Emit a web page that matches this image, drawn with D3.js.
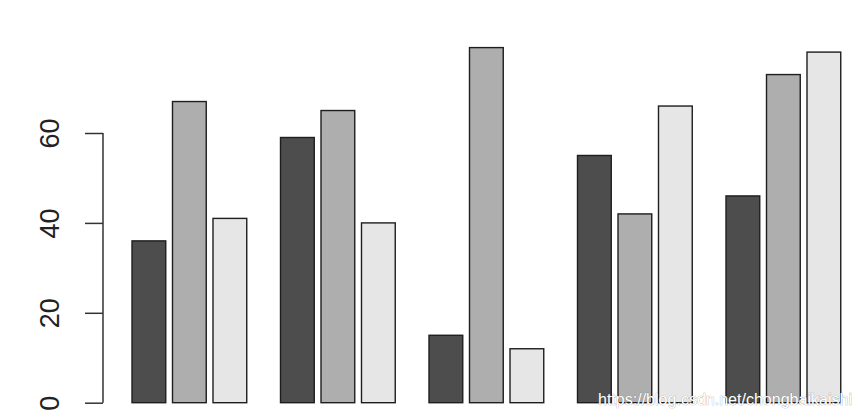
<!DOCTYPE html>
<html>
<head>
<meta charset="utf-8">
<script src="https://cdn.jsdelivr.net/npm/d3@7"></script>
<style>
  html, body { margin: 0; padding: 0; background: #fff; }
  svg { display: block; }
</style>
</head>
<body>
<div id="chart"></div>
<script>
// data
const groups = ["G1", "G2", "G3", "G4", "G5"];
const series = ["S1", "S2", "S3"];
const s1Values = [36, 59, 15, 55, 46];
const s2Values = [67, 65, 79, 42, 73];
const s3Values = [41, 40, 12, 66, 78];
const yTicks = [0, 20, 40, 60];
const seriesColours = ["#4d4d4d", "#aeaeae", "#e6e6e6"];
const watermark = "https://blog.csdn.net/chongbaikaishi";

const width = 861;
const height = 418;

const rows = groups.map((g, i) => ({
    group: g,
    values: [s1Values[i], s2Values[i], s3Values[i]]
}));

const svg = d3.select('#chart')
    .append('svg')
    .attr('width', width)
    .attr('height', height);

// y scale: zero sits at the bottom edge of the bars
const y = d3.scaleLinear()
    .domain([0, 80])
    .range([402.7, 402.7 - 80 * 4.495]);

// groups like barplot(beside=TRUE, space=c(0.2,1))
const x0 = d3.scaleBand()
    .domain(groups)
    .range([132, 840.75])
    .paddingInner(1 / 4.4)
    .paddingOuter(0);

const x1 = d3.scaleBand()
    .domain(series)
    .range([0, x0.bandwidth()])
    .paddingInner(0.2 / 1.2)
    .paddingOuter(0);

const colour = d3.scaleOrdinal()
    .domain(series)
    .range(seriesColours);

// bars
const groupG = svg.selectAll('.grp')
    .data(rows)
    .enter()
    .append('g')
    .attr('class', 'grp')
    .attr('transform', d => `translate(${x0(d.group)},0)`);

groupG.selectAll('rect')
    .data(d => d.values.map((v, j) => ({ key: series[j], value: v })))
    .enter()
    .append('rect')
    .attr('x', d => x1(d.key))
    .attr('y', d => y(d.value))
    .attr('width', x1.bandwidth())
    .attr('height', d => y(0) - y(d.value))
    .attr('fill', d => colour(d.key))
    .attr('stroke', '#1e1e1e')
    .attr('stroke-width', 1.4);

// y axis (R style: line only spans the ticks, labels turned)
const axisX = 103;
const yAxis = svg.append('g')
    .attr('transform', `translate(${axisX},0)`)
    .call(d3.axisLeft(y).tickValues(yTicks).tickSize(18).tickSizeOuter(0));

yAxis.select('.domain').remove();
yAxis.selectAll('.tick line')
    .attr('stroke', '#333')
    .attr('stroke-width', 1.5);
yAxis.selectAll('.tick text')
    .attr('x', null)
    .attr('dy', null)
    .attr('transform', `translate(${59 - axisX},0) rotate(-90)`)
    .attr('text-anchor', 'middle')
    .attr('fill', '#222')
    .style('font-family', '"Liberation Sans", Arial, sans-serif')
    .style('font-size', '27px');

yAxis.append('line')
    .attr('x1', 0)
    .attr('x2', 0)
    .attr('y1', y(yTicks[0]))
    .attr('y2', y(yTicks[yTicks.length - 1]))
    .attr('stroke', '#333')
    .attr('stroke-width', 1.5);

// watermark
svg.append('text')
    .attr('x', 598)
    .attr('y', 405)
    .attr('textLength', 254)
    .attr('lengthAdjust', 'spacingAndGlyphs')
    .attr('fill', '#fff')
    .attr('stroke', 'rgba(90,90,90,0.55)')
    .attr('stroke-width', 0.7)
    .style('paint-order', 'stroke')
    .style('font-family', '"Liberation Sans", Arial, sans-serif')
    .style('font-size', '16px')
    .text(watermark);
</script>
</body>
</html>
